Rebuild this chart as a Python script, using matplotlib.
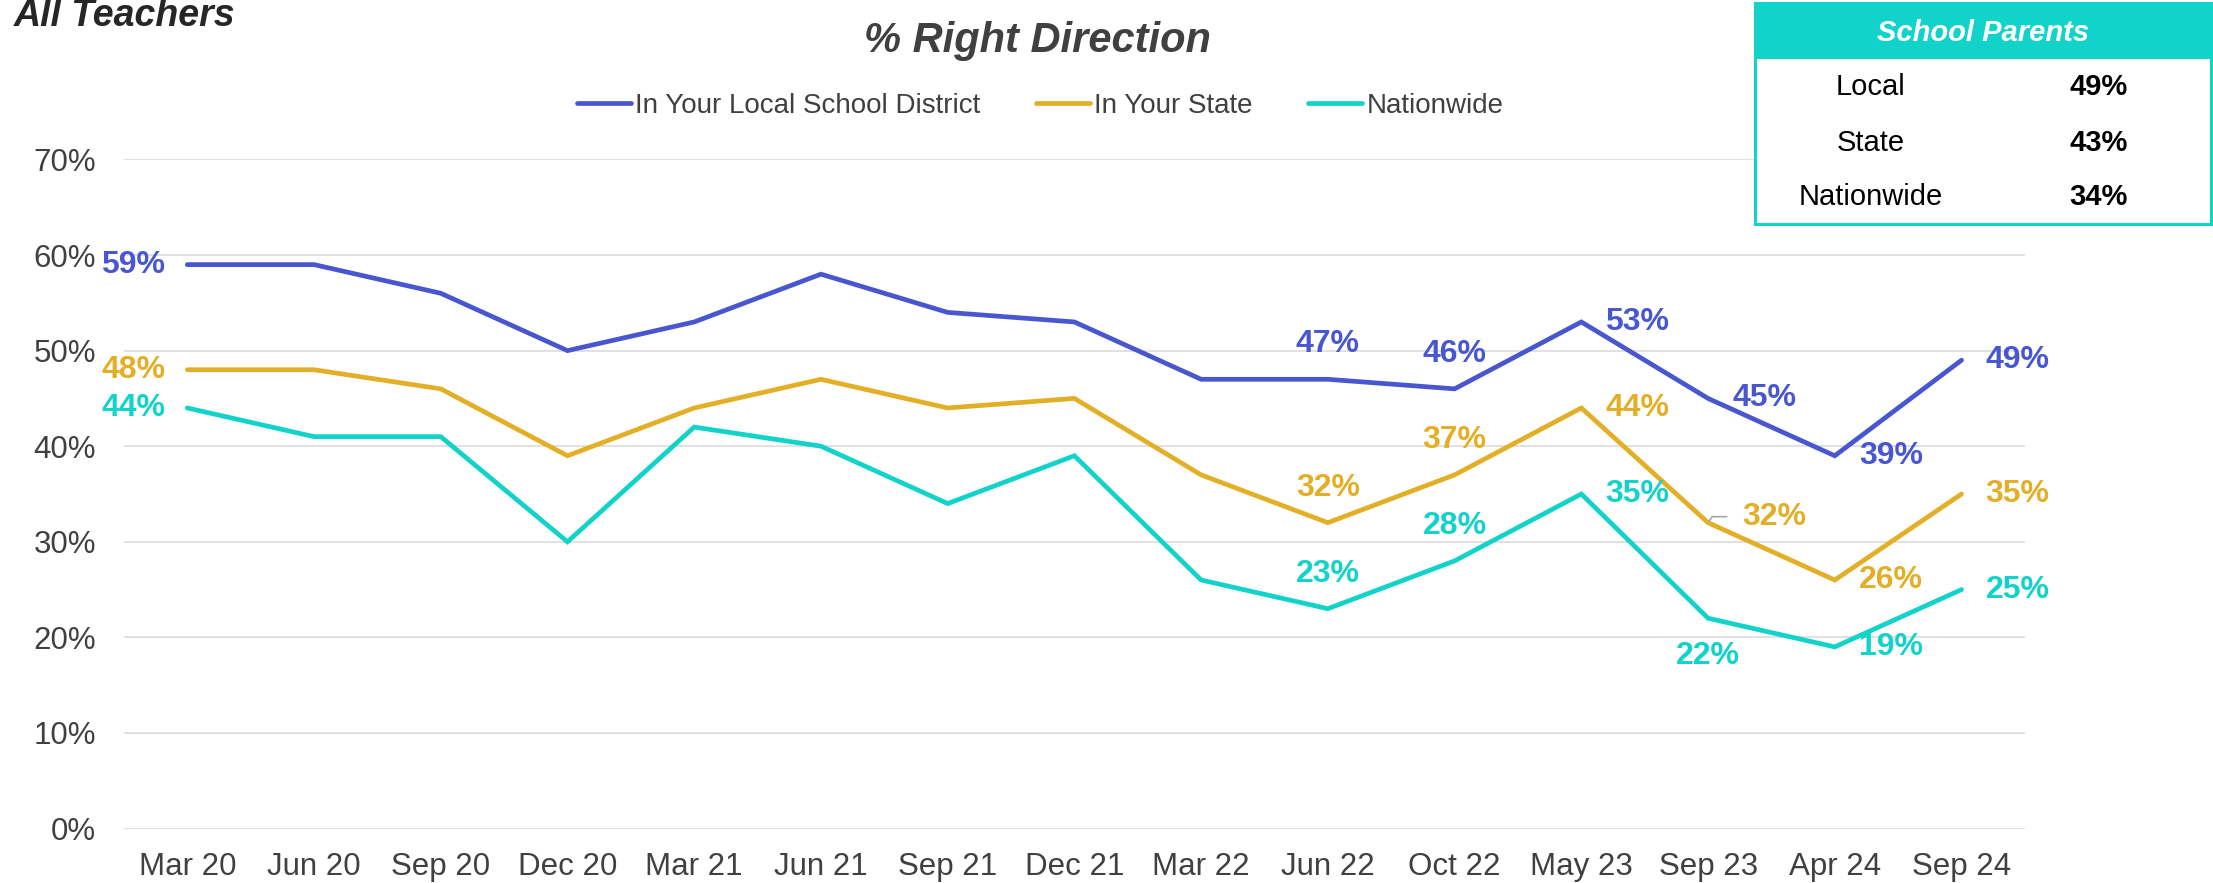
#!/usr/bin/python
# -*- coding: utf-8 -*-

import sys
import matplotlib
matplotlib.use("Agg")
import matplotlib.pyplot as plt
from matplotlib.patches import Rectangle
from matplotlib.ticker import FuncFormatter


# data
periods = ["Mar 20", "Jun 20", "Sep 20", "Dec 20", "Mar 21", "Jun 21", "Sep 21", "Dec 21",
           "Mar 22", "Jun 22", "Oct 22", "May 23", "Sep 23", "Apr 24", "Sep 24"]
local_pct = [59, 59, 56, 50, 53, 58, 54, 53, 47, 47, 46, 53, 45, 39, 49]
state_pct = [48, 48, 46, 39, 44, 47, 44, 45, 37, 32, 37, 44, 32, 26, 35]
nation_pct = [44, 41, 41, 30, 42, 40, 34, 39, 26, 23, 28, 35, 22, 19, 25]

series_names = ["In Your Local School District", "In Your State", "Nationwide"]

parents_rows = ["Local", "State", "Nationwide"]
parents_vals = ["49%", "43%", "34%"]

BLUE = "#4857CF"
GOLD = "#E3AF27"
TEAL = "#12D3C9"
GREY = "#404040"


def main():

    plt.rcParams["font.family"] = ["Liberation Sans", "DejaVu Sans"]

    fig = plt.figure(figsize=(22.13, 8.83), dpi=100)
    ax = fig.add_axes([0.056, 0.0617, 0.859, 0.7577])

    x = list(range(len(periods)))
    all_series = [local_pct, state_pct, nation_pct]
    colors = [BLUE, GOLD, TEAL]

    for vals, col, name in zip(all_series, colors, series_names):
        ax.plot(x, [v / 100.0 for v in vals], color=col, lw=3.4,
                solid_capstyle="round", solid_joinstyle="miter", label=name, zorder=3)

    lab = dict(fontsize=23, fontweight="bold", va="center", zorder=4,
               textcoords="offset pixels")

    # which points get a label and where (offset in pixels)
    spots = {
        0: "left", 9: "up", 10: "up", 11: "right", 13: "right", 14: "right",
    }
    for vals, col in zip(all_series, colors):
        for i, pos in spots.items():
            v = vals[i] / 100.0
            if pos == "left":
                off, ha = (-54, 0), "center"
            elif pos == "up":
                off, ha = (0, 35), "center"
            else:
                off, ha = (24, 0), "left"
            ax.annotate("%d%%" % vals[i], (i, v), xytext=off, ha=ha, color=col, **lab)

    # Sep 23 labels are placed by hand
    ax.annotate("%d%%" % local_pct[12], (12, local_pct[12] / 100.0), xytext=(24, 0),
                ha="left", color=BLUE, **lab)
    ax.annotate("%d%%" % state_pct[12], (12, state_pct[12] / 100.0), xytext=(34, 6),
                ha="left", color=GOLD,
                arrowprops=dict(arrowstyle="-", color="#A6A6A6", lw=1.2,
                                shrinkA=9, shrinkB=1,
                                connectionstyle="angle,angleA=0,angleB=55,rad=0"),
                **lab)
    ax.annotate("%d%%" % nation_pct[12], (12, nation_pct[12] / 100.0), xytext=(0, -38),
                ha="center", color=TEAL, **lab)

    ax.set_xlim(-0.5, len(periods) - 0.5)
    ax.set_ylim(0, 0.7)
    ax.set_yticks([i / 10.0 for i in range(8)])
    ax.yaxis.set_major_formatter(FuncFormatter(lambda y, p: "%d%%" % round(y * 100)))
    ax.set_xticks(x)
    ax.set_xticklabels(periods)
    ax.tick_params(axis="both", length=0, labelsize=22.5, labelcolor=GREY)
    ax.tick_params(axis="y", pad=20)
    ax.tick_params(axis="x", pad=17)
    ax.grid(axis="y", color="#D9D9D9", lw=1.1, zorder=0)
    ax.set_axisbelow(True)
    for s in ax.spines.values():
        s.set_visible(False)

    ax.legend(loc="center", bbox_to_anchor=(0.47, 1 - 106 / 883.0), bbox_transform=fig.transFigure,
              ncol=3, frameon=False, fontsize=20, handlelength=1.95, handletextpad=0.15,
              columnspacing=2.0, labelcolor=GREY)

    fig.text(0.469, 1 - 41 / 883.0, "% Right Direction", ha="center", va="center",
             fontsize=30, fontweight="bold", style="italic", color=GREY)
    fig.text(0.006, 1 - 26 / 883.0, "All Teachers", ha="left", va="baseline",
             fontsize=27, fontweight="bold", style="italic", color="#262626")

    # "School Parents" box
    tb = fig.add_axes([1755 / 2213.0, 1 - 224 / 883.0, 456 / 2213.0, 221 / 883.0])
    tb.set_xlim(0, 1)
    tb.set_ylim(0, 1)
    tb.set_xticks([])
    tb.set_yticks([])
    tb.set_facecolor("white")
    for s in tb.spines.values():
        s.set_color(TEAL)
        s.set_linewidth(2.2)
    tb.add_patch(Rectangle((0, 0.747), 1, 0.253, facecolor=TEAL, edgecolor="none"))
    tb.text(0.5, 0.866, "School Parents", ha="center", va="center", color="white",
            fontsize=21, fontweight="bold", style="italic")
    row_y = [0.618, 0.367, 0.122]
    for name, val, yy in zip(parents_rows, parents_vals, row_y):
        tb.text(0.254, yy, name, ha="center", va="center", fontsize=21, color="black")
        tb.text(0.754, yy, val, ha="center", va="center", fontsize=21, color="black",
                fontweight="bold")

    fig.savefig("out.png", dpi=100)
    plt.close("all")

    return 0


if __name__ == '__main__':
    sys.exit(main())
